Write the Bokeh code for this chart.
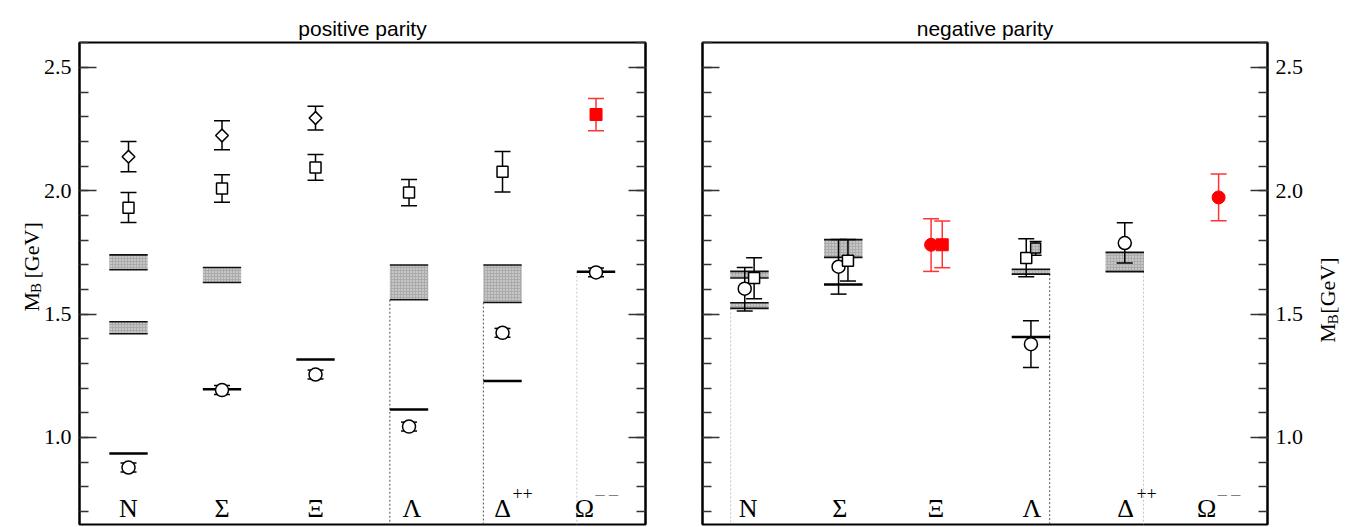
import math
from bokeh.plotting import figure
from bokeh.models import Range1d, LinearAxis, FixedTicker, PrintfTickFormatter
from bokeh.layouts import row
from bokeh.embed import file_html
from bokeh.resources import INLINE
from bokeh.core.properties import value

SERIF = "Liberation Serif"
SANS = "Liberation Sans"

# ---------------- data ----------------
cat_labels = ["N", "Σ", "Ξ", "Λ", "Δ", "Ω"]
sup_labels = ["++", "– –"]
y_ticks = [1.0, 1.5, 2.0, 2.5]
y_minor = [0.7, 0.8, 0.9, 1.0, 1.1, 1.2, 1.3, 1.4, 1.5, 1.6, 1.7, 1.8, 1.9, 2.0, 2.1, 2.2, 2.3, 2.4, 2.5, 2.6]
titles = ["positive parity", "negative parity"]
ylabel_parts = ["M", "B", "[GeV]"]

# positive parity
pos_cat_x = [1.0, 2.0, 3.0, 4.03, 5.0, 5.876]
pos_sup_x = [5.106, 5.994]

pos_dia_x = [1, 2, 3]
pos_dia_y = [2.138, 2.224, 2.295]
pos_dia_lo = [2.077, 2.166, 2.246]
pos_dia_hi = [2.200, 2.284, 2.343]

pos_sq_x = [1, 2, 3, 4, 5]
pos_sq_y = [1.931, 2.009, 2.094, 1.993, 2.077]
pos_sq_lo = [1.871, 1.953, 2.043, 1.939, 1.995]
pos_sq_hi = [1.993, 2.065, 2.147, 2.046, 2.159]

pos_red_sq_x = [6]
pos_red_sq_y = [2.309]
pos_red_sq_lo = [2.243]
pos_red_sq_hi = [2.374]

pos_circ_x = [1, 2, 3, 4, 5, 6]
pos_circ_y = [0.878, 1.192, 1.255, 1.044, 1.424, 1.669]
pos_circ_lo = [0.860, 1.174, 1.237, 1.026, 1.406, 1.651]
pos_circ_hi = [0.896, 1.210, 1.273, 1.062, 1.442, 1.687]

pos_line_x = [1, 2, 3, 4, 5, 6]
pos_line_y = [0.935, 1.195, 1.316, 1.113, 1.229, 1.672]

pos_band_x = [1, 1, 2, 4, 5]
pos_band_lo = [1.680, 1.420, 1.628, 1.558, 1.547]
pos_band_hi = [1.740, 1.469, 1.689, 1.699, 1.699]

pos_vdark_x = [3.795, 4.795]
pos_vdark_top = [1.558, 1.547]
pos_vlight_x = [5.795]
pos_vlight_top = [1.672]

# negative parity
neg_cat_x = [0.986, 1.964, 2.986, 4.01, 5.01, 5.872]
neg_sup_x = [5.124, 5.99]

neg_circ_x = [0.95, 1.95, 4.0, 5.0]
neg_circ_y = [1.603, 1.692, 1.378, 1.788]
neg_circ_lo = [1.513, 1.581, 1.283, 1.707]
neg_circ_hi = [1.689, 1.802, 1.473, 1.870]

neg_sq_x = [1.05, 2.05, 3.95]
neg_sq_y = [1.646, 1.716, 1.727]
neg_sq_lo = [1.562, 1.634, 1.651]
neg_sq_hi = [1.728, 1.802, 1.805]

neg_shsq_x = [4.05]
neg_shsq_y = [1.768]
neg_shsq_lo = [1.739]
neg_shsq_hi = [1.794]

neg_red_circ_x = [2.936, 6.0]
neg_red_circ_y = [1.781, 1.973]
neg_red_circ_lo = [1.673, 1.878]
neg_red_circ_hi = [1.886, 2.068]

neg_red_sq_x = [3.055]
neg_red_sq_y = [1.781]
neg_red_sq_lo = [1.688]
neg_red_sq_hi = [1.877]

neg_band_x = [1, 1, 2, 4, 5]
neg_band_lo = [1.646, 1.523, 1.730, 1.662, 1.672]
neg_band_hi = [1.673, 1.546, 1.802, 1.682, 1.750]

neg_line_x = [2, 4]
neg_line_y = [1.620, 1.407]

neg_vdark_x = [4.2]
neg_vdark_top = [1.662]
neg_vlight_x = [0.8, 5.2]
neg_vlight_top = [1.523, 1.672]

# ---------------- styling helpers ----------------
H = 527
Y0, Y1 = 0.647, 2.601
HW = 0.205
RED = "#ff0000"
RED_BAR = "#ff3535"
BAND_FILL = "#ababab"


def make_axis(show_labels):
    ax = LinearAxis(
        ticker=FixedTicker(ticks=y_ticks, minor_ticks=y_minor),
        formatter=PrintfTickFormatter(format="%.1f"),
        major_tick_in=17, major_tick_out=0,
        minor_tick_in=9, minor_tick_out=0,
        major_tick_line_color="#333333", major_tick_line_width=1.6,
        minor_tick_line_color="#333333", minor_tick_line_width=1.6,
        axis_line_color="black", axis_line_width=2,
        major_label_text_font=SERIF, major_label_text_font_size="22px",
        major_label_text_color="black", major_label_standoff=8,
    )
    if not show_labels:
        ax.major_label_text_color = None
        ax.major_label_text_font_size = "1px"
    return ax


def make_fig(width, xr, bl, br, label_side, title_text):
    p = figure(width=width, height=H, x_range=Range1d(*xr), y_range=Range1d(Y0, Y1),
               x_axis_location=None, y_axis_location=None, title=title_text,
               output_backend="svg", toolbar_location=None,
               min_border_left=bl, min_border_right=br, min_border_top=42, min_border_bottom=3)
    p.grid.visible = False
    p.outline_line_color = "black"
    p.outline_line_width = 2
    p.background_fill_color = "white"
    p.border_fill_color = None
    p.title.align = "center"
    p.title.vertical_align = "top"
    p.title.text_font = SANS
    p.title.text_font_size = "21px"
    p.title.text_font_style = "normal"
    p.title.text_color = "black"
    p.title.standoff = 2
    p.title.offset = 0
    p.add_layout(make_axis(label_side == "left"), "left")
    p.add_layout(make_axis(label_side == "right"), "right")
    return p


def label_fig(width, base_x, anchor_y, side):
    q = figure(width=width, height=H, x_range=Range1d(0, width), y_range=Range1d(0, H),
               x_axis_location=None, y_axis_location=None,
               output_backend="svg", toolbar_location=None, min_border=0)
    q.grid.visible = False
    q.outline_line_color = None
    q.background_fill_color = None
    q.border_fill_color = None
    common = dict(angle=math.pi / 2, text_baseline="alphabetic",
                  text_font=value(SERIF), text_color="black")
    if side == "left":
        # anchor_y = lower end of the label, text grows upwards
        q.text(x=[base_x], y=[anchor_y], text=[ylabel_parts[0]], text_align="left",
               text_font_size="22px", **common)
        q.text(x=[base_x + 5], y=[anchor_y + 20], text=[ylabel_parts[1]], text_align="left",
               text_font_size="15px", **common)
        q.text(x=[base_x], y=[anchor_y + 36], text=[ylabel_parts[2]], text_align="left",
               text_font_size="22px", **common)
    else:
        # anchor_y = upper end of the label, text ends there
        q.text(x=[base_x], y=[anchor_y], text=[ylabel_parts[2]], text_align="right",
               text_font_size="22px", **common)
        q.text(x=[base_x + 5], y=[anchor_y - 62], text=[ylabel_parts[1]], text_align="right",
               text_font_size="15px", **common)
        q.text(x=[base_x], y=[anchor_y - 72], text=[ylabel_parts[0]], text_align="right",
               text_font_size="22px", **common)
    return q


def vlines(p, xs, tops, color):
    p.segment(x0=xs, y0=tops, x1=xs, y1=[Y0] * len(xs), line_color=color,
              line_width=1, line_dash="2 2")


def bands(p, xs, lo, hi):
    p.quad(left=[x - HW for x in xs], right=[x + HW for x in xs], bottom=lo, top=hi,
           fill_color=BAND_FILL, hatch_pattern="dot", hatch_color="#ececec",
           hatch_scale=3, hatch_weight=1, line_color=None)
    p.segment(x0=[x - HW for x in xs], x1=[x + HW for x in xs], y0=hi, y1=hi,
              line_color="#111111", line_width=1.6)
    p.segment(x0=[x - HW for x in xs], x1=[x + HW for x in xs], y0=lo, y1=lo,
              line_color="#111111", line_width=1.6)


def hlines(p, xs, ys):
    p.segment(x0=[x - HW for x in xs], x1=[x + HW for x in xs], y0=ys, y1=ys,
              line_color="black", line_width=2.5)


def errbars(p, xs, lo, hi, color="black", cap=16):
    p.segment(x0=xs, x1=xs, y0=lo, y1=hi, line_color=color, line_width=1.5)
    p.scatter(x=list(xs) + list(xs), y=list(lo) + list(hi), marker="dash", size=cap,
              line_color=color, line_width=1.5)


def cat_text(p, xs, sup_xs):
    p.text(x=xs, y=[0.710] * len(xs), text=cat_labels, text_font=value(SERIF),
           text_font_size="26px", text_align="center", text_baseline="alphabetic",
           text_color="black")
    p.text(x=[sup_xs[0]], y=[0.771], text=[sup_labels[0]], text_font=value(SERIF),
           text_font_size="18px", text_align="left", text_baseline="alphabetic",
           text_color="black")
    p.text(x=[sup_xs[1]], y=[0.771], text=[sup_labels[1]], text_font=value(SERIF),
           text_font_size="18px", text_align="left", text_baseline="alphabetic",
           text_color="#808080")


# ---------------- y-axis label panels ----------------
lab_left = label_fig(100, 30.5, 233, "left")
lab_right = label_fig(100, 71, 292, "right")
lab_right.margin = (0, 0, 0, -50)

# ---------------- positive parity ----------------
p1 = make_fig(632, (0.476, 6.529), 39, 27, "left", titles[0])
p1.margin = (0, 0, 0, -60)
vlines(p1, pos_vdark_x, pos_vdark_top, "#555555")
vlines(p1, pos_vlight_x, pos_vlight_top, "#c4c4c4")
bands(p1, pos_band_x, pos_band_lo, pos_band_hi)
hlines(p1, pos_line_x, pos_line_y)
errbars(p1, pos_dia_x, pos_dia_lo, pos_dia_hi)
errbars(p1, pos_sq_x, pos_sq_lo, pos_sq_hi)
errbars(p1, pos_circ_x, pos_circ_lo, pos_circ_hi)
errbars(p1, pos_red_sq_x, pos_red_sq_lo, pos_red_sq_hi, color=RED_BAR)
p1.scatter(pos_dia_x, pos_dia_y, marker="square", angle=math.pi / 4, size=9,
           fill_color="white", line_color="black", line_width=1.5)
p1.scatter(pos_sq_x, pos_sq_y, marker="square", size=11,
           fill_color="white", line_color="black", line_width=1.5)
p1.scatter(pos_circ_x, pos_circ_y, marker="circle", size=13,
           fill_color="white", line_color="black", line_width=1.5)
p1.scatter(pos_red_sq_x, pos_red_sq_y, marker="square", size=12,
           fill_color=RED, line_color=RED, line_width=1)
cat_text(p1, pos_cat_x, pos_sup_x)

# ---------------- negative parity ----------------
p2 = make_fig(634, (0.5, 6.521), 30, 38, "right", titles[1])
vlines(p2, neg_vdark_x, neg_vdark_top, "#555555")
vlines(p2, neg_vlight_x, neg_vlight_top, "#c4c4c4")
bands(p2, neg_band_x, neg_band_lo, neg_band_hi)
hlines(p2, neg_line_x, neg_line_y)
errbars(p2, neg_circ_x, neg_circ_lo, neg_circ_hi)
errbars(p2, neg_sq_x, neg_sq_lo, neg_sq_hi)
errbars(p2, neg_shsq_x, neg_shsq_lo, neg_shsq_hi, cap=12)
errbars(p2, neg_red_circ_x, neg_red_circ_lo, neg_red_circ_hi, color=RED_BAR)
errbars(p2, neg_red_sq_x, neg_red_sq_lo, neg_red_sq_hi, color=RED_BAR)
p2.scatter(neg_circ_x, neg_circ_y, marker="circle", size=13,
           fill_color="white", line_color="black", line_width=1.5)
p2.scatter(neg_sq_x, neg_sq_y, marker="square", size=11,
           fill_color="white", line_color="black", line_width=1.5)
p2.scatter(neg_shsq_x, neg_shsq_y, marker="square", size=10,
           fill_color=BAND_FILL, hatch_pattern="dot", hatch_color="#ececec",
           hatch_scale=3, line_color="black", line_width=1.5)
p2.scatter(neg_red_circ_x, neg_red_circ_y, marker="circle", size=13,
           fill_color=RED, line_color=RED, line_width=1)
p2.scatter(neg_red_sq_x, neg_red_sq_y, marker="square", size=12,
           fill_color=RED, line_color=RED, line_width=1)
cat_text(p2, neg_cat_x, neg_sup_x)

layout = row(lab_left, p1, p2, lab_right)
open("out.html", "w").write(file_html(layout, INLINE))
